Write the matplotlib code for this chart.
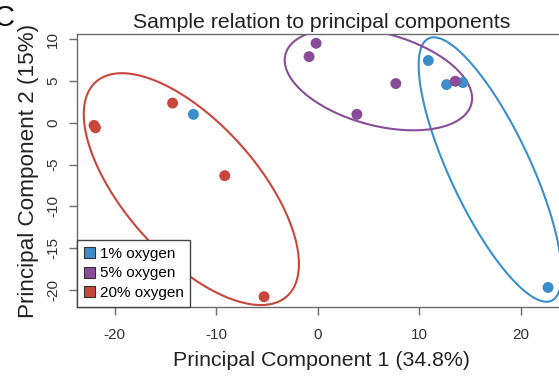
import numpy as np
import matplotlib.pyplot as plt
from matplotlib.patches import Patch

plt.rcParams['font.family'] = ['Liberation Sans', 'DejaVu Sans']

# PCA scores
grupos = ['1% oxygen', '5% oxygen', '20% oxygen']
cores = ['#3A8FCB', '#8A4C98', '#C9463D']

pc1_1 = [-12.25, 10.9, 12.7, 14.3, 22.7]
pc2_1 = [1.0, 7.44, 4.56, 4.8, -19.7]

pc1_5 = [-0.16, -0.85, 7.7, 3.86, 13.55]
pc2_5 = [9.5, 7.9, 4.68, 1.0, 4.96]

pc1_20 = [-22.04, -21.9, -14.3, -9.16, -5.29]
pc2_20 = [-0.32, -0.6, 2.35, -6.33, -20.8]

# ellipses: center and shape matrix (sxx, syy, sxy)
centros = [(16.99, -5.6), (5.98, 5.2), (-12.45, -7.94)]
formas = [(49.6, 250.0, -87.7), (85.2, 37.3, -21.0), (112.4, 192.1, -95.0)]

xs = [pc1_1, pc1_5, pc1_20]
ys = [pc2_1, pc2_5, pc2_20]

fig = plt.figure(figsize=(5.59, 3.77), dpi=100)
ax = fig.add_axes([0.1372, 0.1865, 0.875, 0.722])

cinza = '#6b6b6b'
t = np.linspace(0, 2 * np.pi, 300)
for (cx, cy), (sxx, syy, sxy), cor in zip(centros, formas, cores):
    S = np.array([[sxx, sxy], [sxy, syy]])
    L = np.linalg.cholesky(S)
    pts = L @ np.vstack([np.cos(t), np.sin(t)])
    ax.plot(cx + pts[0], cy + pts[1], color=cor, lw=1.5, zorder=2)

for x, y, cor in zip(xs, ys, cores):
    ax.scatter(x, y, s=62, color=cor, edgecolors='none', zorder=3)

ax.set_xlim(-23.75, 24.45)
ax.set_ylim(-22.0, 10.55)
ax.set_xticks([-20, -10, 0, 10, 20])
ax.set_yticks([-20, -15, -10, -5, 0, 5, 10])
ax.set_xticklabels(['-20', '-10', '0', '10', '20'])
ax.set_yticklabels(['-20', '-15', '-10', '-5', '0', '5', '10'],
                   rotation=90, va='center')
ax.tick_params(direction='out', length=6, width=1, color=cinza,
               labelcolor='#333333', labelsize=11)
ax.tick_params(axis='x', pad=9)
ax.tick_params(axis='y', pad=6)
for s in ax.spines.values():
    s.set_color(cinza)
    s.set_linewidth(1)

ax.set_title('Sample relation to principal components', fontsize=15.3,
             color='#222222', pad=5)
ax.set_xlabel('Principal Component 1 (34.8%)', fontsize=15.4, color='#222222',
              labelpad=7)
ax.set_ylabel('Principal Component 2 (15%)', fontsize=16.2, color='#222222',
              labelpad=5)

handles = [Patch(facecolor=c, edgecolor='#333333', lw=0.8) for c in cores]
leg = ax.legend(handles, grupos, loc='lower left', borderaxespad=0,
                fontsize=11, frameon=True, fancybox=False,
                handlelength=0.75, handleheight=0.75, handletextpad=0.3,
                labelspacing=0.35, borderpad=0.45, framealpha=1)
leg.get_frame().set_edgecolor('#444444')
leg.get_frame().set_linewidth(1)
leg.set_zorder(5)

fig.text(-0.012, 0.99, 'C', fontsize=21, va='top', ha='left', color='#111111')

fig.savefig('out.png', dpi=100)
